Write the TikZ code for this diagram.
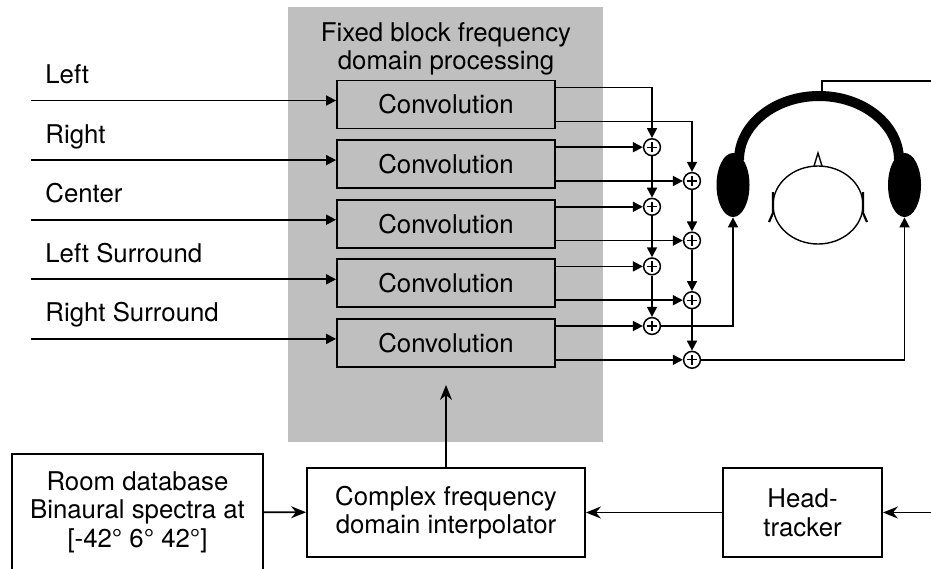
\documentclass[tikz,border=0pt]{standalone}
\usepackage{fontspec}
\setmainfont{TeX Gyre Heros}
\usetikzlibrary{arrows.meta,shapes.geometric}

\begin{document}
\begin{tikzpicture}[
  x=0.5pt, y=-0.5pt,
  font=\fontsize{12.9}{14.3}\selectfont,
  conv/.style={draw, line width=0.9pt, minimum width=109pt,
               minimum height=24pt, inner sep=0pt},
  blk/.style={draw, fill=white, line width=0.9pt, align=center, inner sep=0pt},
  sum/.style={draw, circle, fill=white, line width=0.75pt, minimum size=8.4pt,
              inner sep=0pt,
              path picture={
                \draw[line width=0.65pt] (path picture bounding box.center)
                  ++(-2.6pt,0) -- ++(5.2pt,0);
                \draw[line width=0.65pt] (path picture bounding box.center)
                  ++(0,-2.6pt) -- ++(0,5.2pt);}},
  cup/.style={ellipse, fill=black, minimum width=16.5pt, minimum height=32pt,
              inner sep=0pt},
  lbl/.style={anchor=base west, inner sep=0pt},
  arr/.style={-{Triangle[length=5pt,width=5pt]}, line width=0.85pt},
  sarr/.style={-{Stealth[length=7.5pt,width=6pt]}, line width=0.85pt},
]

  \path[use as bounding box, clip] (0,0) rectangle (931,568);

  % --- processing block ---
  \fill[black!25] (288,7) rectangle (603,442);
  \node[align=center] (title) at (446,49)
    {Fixed block frequency\\domain processing};

  % --- inputs and convolutions ---
  \foreach \i/\name in {1/Left,2/Right,3/Center,4/Left Surround,5/Right Surround} {
    \pgfmathsetmacro\cy{104.5+59.6*(\i-1)}
    \node[conv] (c\i) at (446,\cy) {Convolution};
    \node[lbl] (n\i) at (45,\cy-21) {\name};
    \coordinate (in\i) at (31,\cy-4);
    \draw[arr] (in\i) -- (in\i -| c\i.west);
    % upper and lower outputs of each convolution
    \coordinate (up\i) at ([yshift=-4pt]c\i.north east);
    \coordinate (lo\i) at ([yshift=4pt]c\i.south east);
  }

  % --- summing columns ---
  \coordinate (colA) at (652,0);
  \coordinate (colB) at (692,0);
  \foreach \k in {1,...,4} {
    \pgfmathtruncatemacro\j{\k+1}
    \node[sum] (a\k) at (colA |- up\j) {};
    \node[sum] (b\k) at (colB |- lo\j) {};
    \draw[arr] (up\j) -- (a\k);
    \draw[arr] (lo\j) -- (b\k);
  }
  \draw[arr] (up1) -| (a1);
  \draw[arr] (lo1) -| (b1);
  \foreach \k/\l in {1/2,2/3,3/4} {
    \draw[arr] (a\k) -- (a\l);
    \draw[arr] (b\k) -- (b\l);
  }

  % --- headphones and head ---
  \draw[line width=5pt] (739,160)
    arc[start angle=180, end angle=360, x radius=80, y radius=64];
  \node[cup] (lcup) at (733,185) {};
  \node[cup] (rcup) at (904.5,185) {};
  \draw[arr] (a4) -| (lcup);
  \draw[arr] (b4) -| (rcup);

  \draw[line width=0.7pt] (818,205) ellipse [x radius=45, y radius=39];
  \draw[line width=0.7pt] (814,166) -- (818,153) -- (822,166);
  \draw[line width=1.1pt] (773,192) -- (773,213) -- (769,222);
  \draw[line width=1.1pt] (863,192) -- (863,213) -- (867,222);

  % --- interpolation chain ---
  \node[blk, minimum width=125.5pt, minimum height=58pt] (room) at (137.5,512)
    {Room database\\Binaural spectra at\\{[}-42° 6° 42°{]}};
  \node[blk, minimum width=139pt, minimum height=44.5pt] (cfi) at (446,512.5)
    {Complex frequency\\domain interpolator};
  \node[blk, minimum width=79.5pt, minimum height=44.5pt] (trk) at (802.5,512.5)
    {Head-\\tracker};
  \coordinate (proc) at (446,385);
  \coordinate (band) at (822,96);

  \draw[sarr] (room) -- (cfi);
  \draw[sarr] (trk) -- (cfi);
  \draw[sarr] (cfi) -- (proc);
  \draw[sarr, line width=0.65pt] (band) |- (960,81) |- (trk.east);

\end{tikzpicture}
\end{document}
